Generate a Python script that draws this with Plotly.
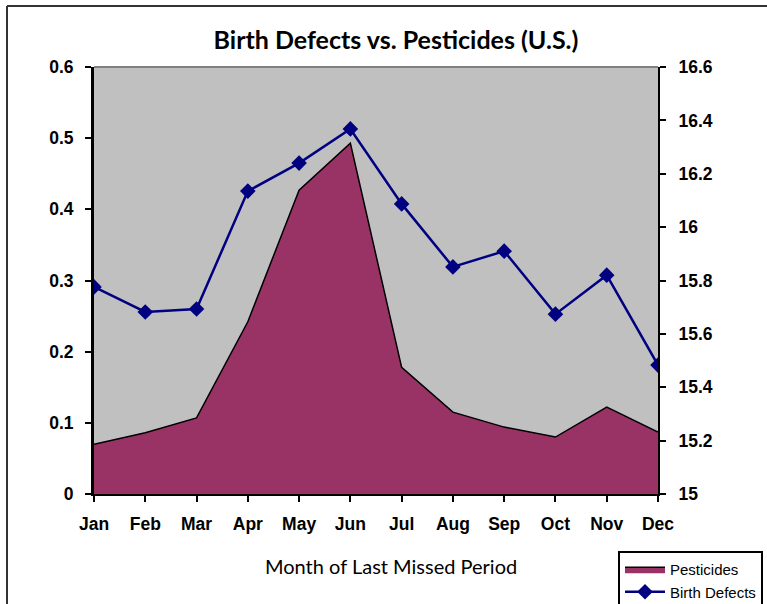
import plotly.graph_objects as go

months = ["Jan", "Feb", "Mar", "Apr", "May", "Jun", "Jul", "Aug", "Sep", "Oct", "Nov", "Dec"]
pesticides = [0.070, 0.086, 0.107, 0.242, 0.427, 0.493, 0.178, 0.115, 0.094, 0.080, 0.122, 0.087]
birth_defects = [15.776, 15.682, 15.693, 16.135, 16.240, 16.368, 16.087, 15.851, 15.910, 15.674, 15.820, 15.483]

W, H = 767, 604
L, R, T, B = 94, 658, 67, 494

fig = go.Figure()
fig.add_trace(go.Scatter(
    x=months, y=pesticides, name="Pesticides", mode="lines",
    fill="tozeroy", fillcolor="#993366",
    line=dict(color="black", width=1.5), yaxis="y"))
fig.add_trace(go.Scatter(
    x=months, y=birth_defects, name="Birth Defects", mode="lines+markers",
    line=dict(color="#000080", width=2.5),
    marker=dict(symbol="diamond", size=12, color="#000080"), yaxis="y2"))

tickfont = dict(family="Liberation Sans, Arial", size=17.5, color="black", weight="bold")
fig.update_layout(
    width=W, height=H,
    margin=dict(l=L, r=W - R, t=T, b=H - B, autoexpand=False),
    paper_bgcolor="white", plot_bgcolor="#C0C0C0",
    showlegend=True,
    title=dict(text="<b>Birth Defects vs. Pesticides (U.S.)</b>",
               font=dict(family="Lato, Open Sans", size=25, color="black"),
               x=396 / W, xref="container", xanchor="center",
               y=1 - 40 / H, yref="container", yanchor="middle"),
    xaxis=dict(type="category", range=[0, 11], showgrid=False,
               showline=True, linecolor="black", linewidth=2,
               ticks="outside", ticklen=6, tickwidth=2, tickcolor="black",
               ticklabelstandoff=7,
               tickfont=tickfont, zeroline=False),
    yaxis=dict(range=[0, 0.6], dtick=0.1, showgrid=False,
               showline=True, linecolor="black", linewidth=3,
               ticks="outside", ticklen=6, tickwidth=2, tickcolor="black",
               ticklabelstandoff=8,
               tickfont=tickfont, zeroline=False),
    yaxis2=dict(range=[15, 16.6], dtick=0.2, overlaying="y", side="right",
                showgrid=False, showline=True, linecolor="black", linewidth=2,
                ticks="outside", ticklen=6, tickwidth=2, tickcolor="black",
                ticklabelstandoff=9,
                tickfont=tickfont, zeroline=False),
    legend=dict(xref="container", yref="container",
                x=618 / W, y=1 - 551 / H, xanchor="left", yanchor="top",
                bgcolor="white", bordercolor="black", borderwidth=2,
                font=dict(family="Liberation Sans, Arial", size=15, color="black"),
                tracegroupgap=0, itemwidth=40),
    annotations=[dict(text="Month of Last Missed Period", xref="paper", yref="paper",
                      x=(391 - L) / (R - L), y=-(566 - B) / (B - T),
                      xanchor="center", yanchor="middle", showarrow=False,
                      font=dict(family="Lato, Open Sans", size=20, color="black"))],
    shapes=[
        dict(type="line", xref="paper", yref="paper", x0=0, x1=1, y0=1, y1=1,
             line=dict(color="#808080", width=2)),
        dict(type="line", xref="paper", yref="paper",
             x0=-(L - 7) / (R - L), x1=-(L - 7) / (R - L),
             y0=1 + (T - 6) / (B - T), y1=-(H - B) / (B - T) - 0.05,
             line=dict(color="#333333", width=2)),
        dict(type="line", xref="paper", yref="paper",
             x0=-(L - 7) / (R - L), x1=1 + (W - R) / (R - L) + 0.05,
             y0=1 + (T - 6) / (B - T), y1=1 + (T - 6) / (B - T),
             line=dict(color="#333333", width=2)),
    ],
)

fig.write_html("out.html", config={"displayModeBar": False},
               post_script="document.body.style.margin='0';")
